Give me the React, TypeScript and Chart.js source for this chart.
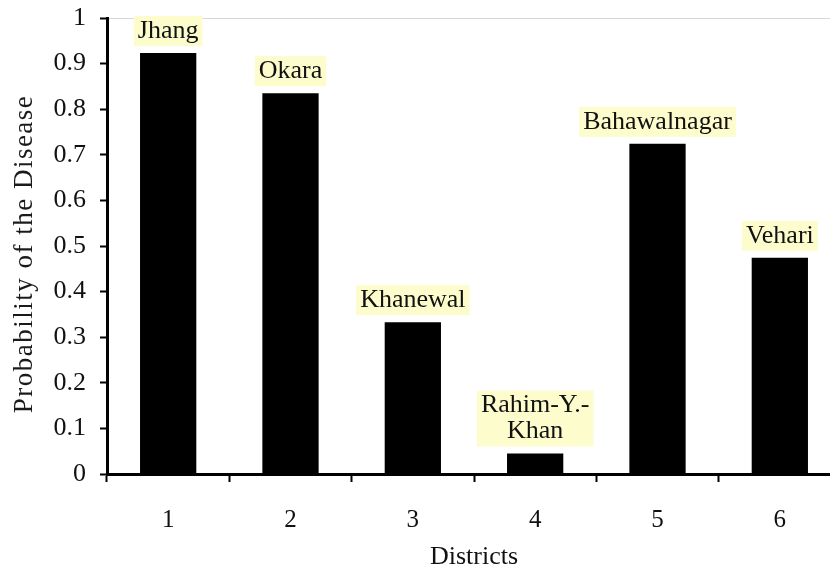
import React, { useEffect, useRef } from 'react';
import { Chart, registerables } from 'chart.js';

Chart.register(...registerables);

const FONT = "'Liberation Serif', 'Times New Roman', serif";

const districts = ['1', '2', '3', '4', '5', '6'];
const probabilities = [0.923, 0.835, 0.333, 0.045, 0.724, 0.474];
const districtNames: (string | string[])[] = ['Jhang', 'Okara', 'Khanewal', ['Rahim-Y.-', 'Khan'], 'Bahawalnagar', 'Vehari'];
const yTickLabels = ['0', '0.1', '0.2', '0.3', '0.4', '0.5', '0.6', '0.7', '0.8', '0.9', '1'];
const yTitle = 'Probability of the Disease';
const xTitle = 'Districts';

const barNamesPlugin = {
  id: 'barNames',
  afterDatasetsDraw(chart: any) {
    const ctx = chart.ctx;
    const meta = chart.getDatasetMeta(0);
    ctx.save();
    ctx.font = `26px ${FONT}`;
    ctx.textAlign = 'center';
    ctx.textBaseline = 'middle';
    meta.data.forEach((bar: any, i: number) => {
      const lines = ([] as string[]).concat(districtNames[i] as any);
      const n = lines.length;
      const lh = 26;
      const w = Math.max(...lines.map((l) => ctx.measureText(l).width)) + 8;
      const lastCenter = bar.y - 22;
      const firstCenter = lastCenter - (n - 1) * lh;
      const top = firstCenter - 15;
      const bottom = lastCenter + 15;
      ctx.fillStyle = '#fdfccc';
      ctx.fillRect(bar.x - w / 2, top, w, bottom - top);
      ctx.fillStyle = '#111';
      lines.forEach((l, j) => ctx.fillText(l, bar.x, firstCenter + j * lh));
    });
    ctx.restore();
  },
};

const yTitlePlugin = {
  id: 'yTitle',
  afterDraw(chart: any) {
    const ctx = chart.ctx;
    ctx.save();
    ctx.translate(25, 254);
    ctx.rotate(-Math.PI / 2);
    ctx.font = `27px ${FONT}`;
    (ctx as any).letterSpacing = '1.5px';
    ctx.fillStyle = '#1a1a1a';
    ctx.textAlign = 'center';
    ctx.textBaseline = 'middle';
    ctx.fillText(yTitle, 0, 0);
    ctx.restore();
  },
};

export default function App() {
  const canvasRef = useRef<HTMLCanvasElement | null>(null);

  useEffect(() => {
    if (!canvasRef.current) return;
    const chart = new Chart(canvasRef.current, {
      type: 'bar',
      data: {
        labels: districts,
        datasets: [
          {
            data: probabilities,
            backgroundColor: '#000',
            borderWidth: 0,
            barPercentage: 0.46,
            categoryPercentage: 1,
          },
        ],
      },
      options: {
        animation: false,
        responsive: true,
        maintainAspectRatio: false,
        layout: { padding: { top: 18, right: 9, bottom: 0, left: 0 } },
        plugins: { legend: { display: false }, tooltip: { enabled: false } },
        scales: {
          x: {
            offset: true,
            grid: {
              offset: true,
              drawOnChartArea: false,
              drawTicks: true,
              tickLength: 8,
              tickColor: '#000',
              tickWidth: 2,
            },
            border: { display: true, color: '#000', width: 3 },
            ticks: {
              color: '#111',
              font: { family: FONT, size: 25 },
              padding: 23,
            },
            title: {
              display: true,
              text: xTitle,
              color: '#111',
              font: { family: FONT, size: 26, lineHeight: 1.1 },
              padding: { top: 0, bottom: 0 },
            },
            afterFit: (s: any) => {
              s.height = 97;
              s.paddingLeft = 0;
              s.paddingRight = 0;
            },
          },
          y: {
            min: 0,
            max: 1,
            ticks: {
              stepSize: 0.1,
              color: '#111',
              font: { family: FONT, size: 26 },
              padding: 14,
              callback: (_v: any, i: number) => yTickLabels[i],
            },
            grid: {
              color: (c: any) => (c.tick && Math.abs(c.tick.value - 1) < 1e-9 ? '#d8d8d8' : 'rgba(0,0,0,0)'),
              lineWidth: 1,
              drawTicks: true,
              tickLength: 7,
              tickColor: '#000',
              tickWidth: 2,
            },
            border: { display: true, color: '#000', width: 3 },
            afterFit: (s: any) => {
              s.width = 107;
              s.paddingTop = 0;
              s.paddingBottom = 0;
            },
          },
        },
      },
      plugins: [barNamesPlugin, yTitlePlugin],
    });
    return () => chart.destroy();
  }, []);

  return (
    <div style={{ position: 'fixed', left: 0, top: 0, width: 830, height: 571, overflow: 'hidden', background: '#fff' }}>
      <div style={{ position: 'relative', width: 850, height: 571 }}>
        <canvas ref={canvasRef} />
      </div>
    </div>
  );
}
